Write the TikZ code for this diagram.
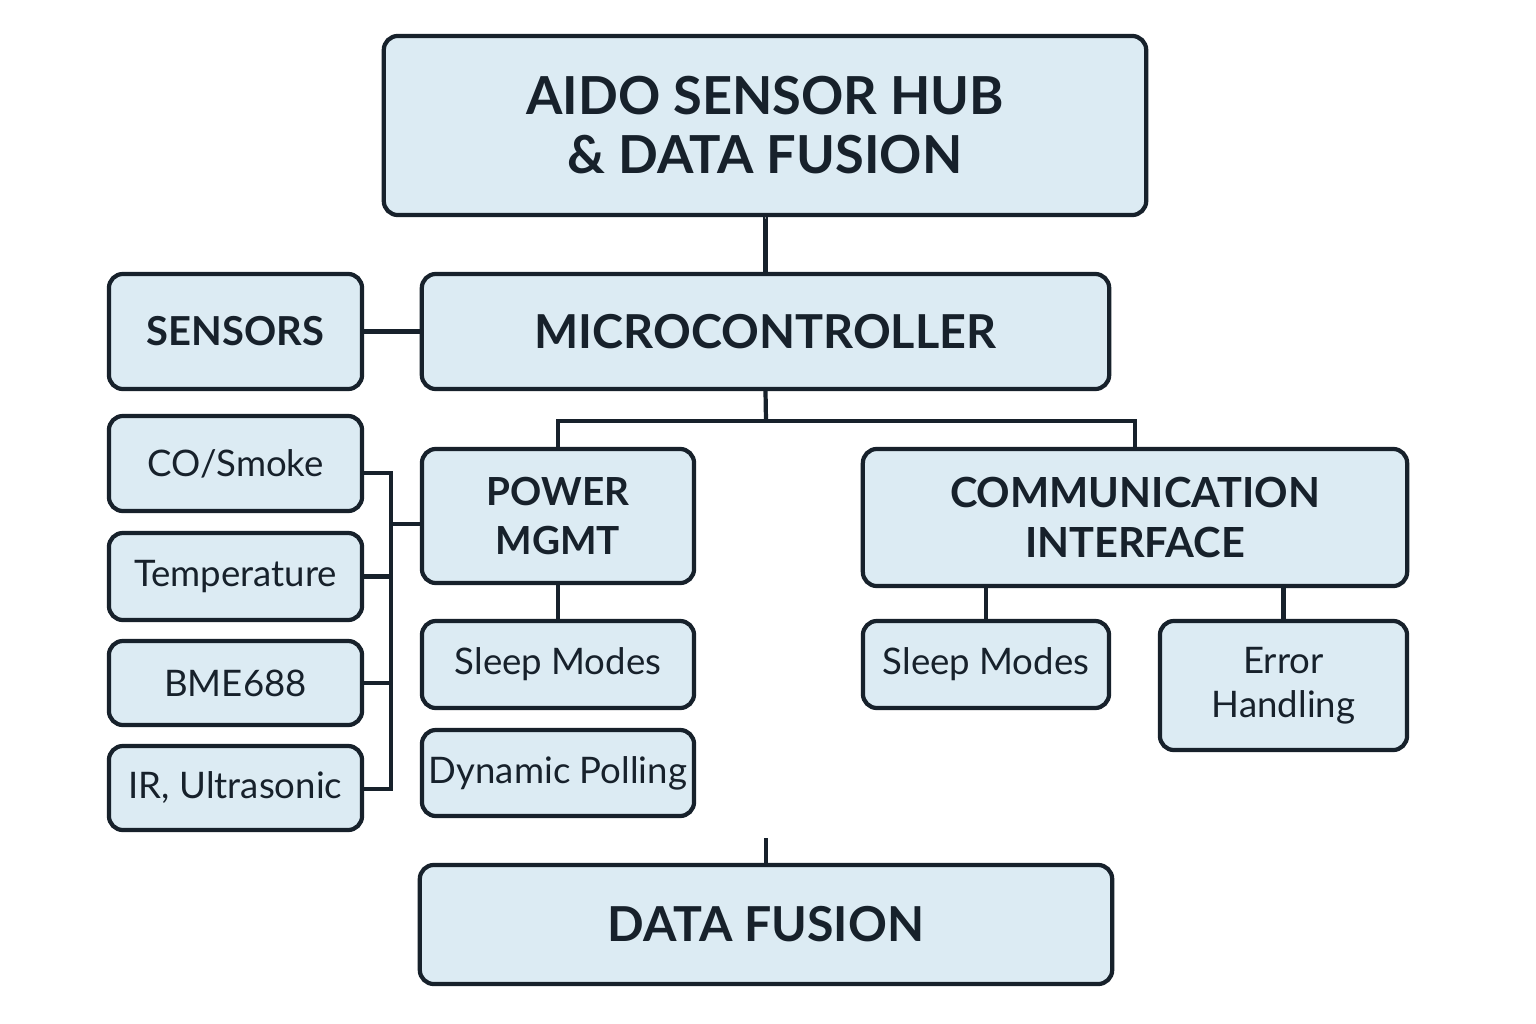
\documentclass[tikz,border=0pt]{standalone}
\usepackage{fontspec}
\setmainfont{Lato}
\usetikzlibrary{positioning}
\definecolor{boxfill}{HTML}{DCEBF3}
\definecolor{boxline}{HTML}{17212B}
\tikzset{
  box/.style={draw=boxline,fill=boxfill,rectangle,rounded corners=4pt,line width=1.2pt,align=center,inner sep=0pt,text=boxline},
  headbox/.style={box,font=\fontsize{14.9}{16.8}\bfseries\selectfont},
  midbox/.style={box,font=\fontsize{11}{13.7}\bfseries\selectfont},
  itembox/.style={box,font=\fontsize{10.4}{12.5}\selectfont},
  wire/.style={draw=boxline,line width=1.2pt}
}
\begin{document}
\begin{tikzpicture}[x=0.01cm,y=-0.01cm]
  \useasboundingbox (0,0) rectangle (1536,1024);

  \node[headbox,minimum width=7.62cm,minimum height=1.79cm] (hub) at (765,125.5) {AIDO SENSOR HUB\\ \& DATA FUSION};
  \node[headbox,font=\fontsize{13.3}{16}\bfseries\selectfont,minimum width=6.87cm,minimum height=1.15cm] (mcu) at (765.5,331.5) {MICROCONTROLLER};
  \node[midbox,font=\fontsize{11.35}{14}\bfseries\selectfont,minimum width=2.53cm,minimum height=1.15cm] (sensors) at (235.5,331.5) {SENSORS};

  \node[midbox,minimum width=2.72cm,minimum height=1.34cm] (power) at (558,516) {POWER\\MGMT};
  \node[midbox,font=\fontsize{11.8}{14.2}\bfseries\selectfont,minimum width=5.44cm,minimum height=1.37cm] (comm) at (1135,517.5) {COMMUNICATION\\INTERFACE};

  % sensor list
  \node[itembox,minimum width=2.53cm,minimum height=0.95cm] (smoke) at (235.5,463.5) {CO/Smoke};
  \node[itembox,minimum width=2.53cm,minimum height=0.87cm] (temp) at (235.5,576.5) {Temperature};
  \node[itembox,minimum width=2.53cm,minimum height=0.84cm] (bme) at (235.5,683) {BME688};
  \node[itembox,minimum width=2.53cm,minimum height=0.84cm] (irus) at (235.5,788) {IR, Ultrasonic};

  % power / comm details
  \node[itembox,minimum width=2.72cm,minimum height=0.87cm] (sleepP) at (558,664.5) {Sleep Modes};
  \node[itembox,minimum width=2.72cm,minimum height=0.86cm] (polling) at (558,773) {Dynamic Polling};
  \node[itembox,minimum width=2.46cm,minimum height=0.87cm] (sleepC) at (986,664.5) {Sleep Modes};
  \node[itembox,minimum width=2.47cm,minimum height=1.29cm] (errors) at (1283.5,685.5) {Error\\Handling};

  \node[headbox,font=\fontsize{13.7}{16}\bfseries\selectfont,minimum width=6.92cm,minimum height=1.19cm] (fusion) at (766,924.5) {DATA FUSION};

  \coordinate (split) at (766,421);
  \coordinate (busTop) at (391,473);
  \coordinate (busMid) at (391,524);
  \coordinate (busBot) at (391,789);
  \coordinate (stub) at (766,838);

  \draw[wire] (hub) -- (mcu.north |- hub.south) -- (mcu.north);
  \draw[wire] (sensors) -- (mcu);
  \draw[wire] (mcu.south) -- (split);
  \draw[wire] (power.north) |- (split) -| (comm.north);

  \draw[wire] (smoke.east |- busTop) -- (busTop) -- (busBot) -- (irus.east |- busBot);
  \draw[wire] (temp.east) -- (temp.east -| busTop);
  \draw[wire] (bme.east) -- (bme.east -| busTop);
  \draw[wire] (busMid) -- (power.west |- busMid);

  \draw[wire] (power) -- (sleepP);
  \draw[wire] (sleepC.north) -- (sleepC.north |- comm.south);
  \draw[wire] (errors.north) -- (errors.north |- comm.south);
  \draw[wire] (stub) -- (fusion.north);
\end{tikzpicture}
\end{document}
